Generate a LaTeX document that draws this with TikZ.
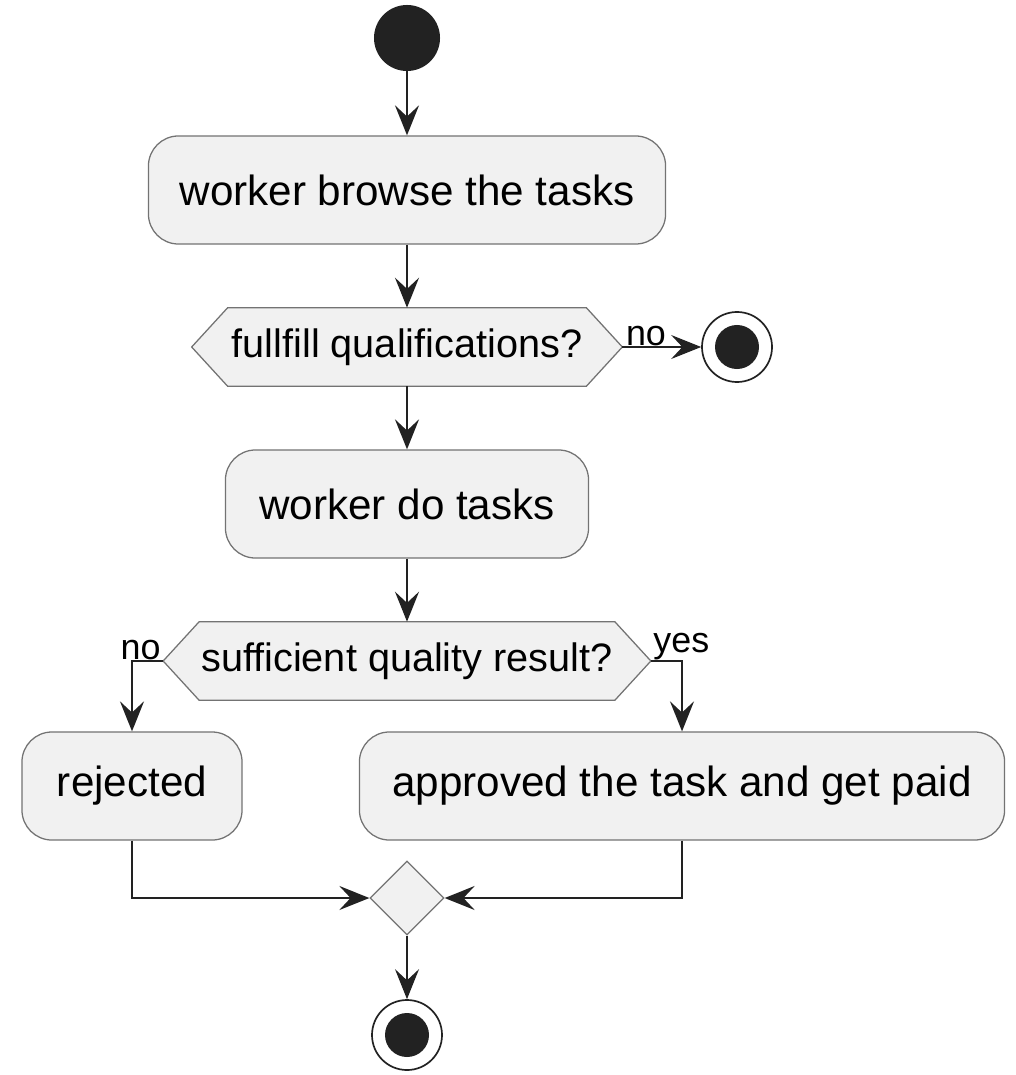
\documentclass[tikz,border=0pt]{standalone}
\usepackage{fontspec}
\setmainfont{Liberation Sans}
\usepackage{tikz}
\usetikzlibrary{arrows.meta, shapes.geometric}
\definecolor{boxfill}{HTML}{F1F1F1}
\definecolor{ink}{HTML}{222222}
\newcommand{\hexframe}[1]{%
  \draw[draw=black!55, line width=0.9pt, fill=boxfill] (#1.west) -- ([xshift=0.9cm]#1.north west)
    -- ([xshift=-0.9cm]#1.north east) -- (#1.east) -- ([xshift=-0.9cm]#1.south east)
    -- ([xshift=0.9cm]#1.south west) -- cycle;
  \node[font=\fontsize{28.2}{34}\selectfont] at (#1) {\csname hextext#1\endcsname};}

\begin{document}
\begin{tikzpicture}[x=0.025cm, y=-0.025cm,
  act/.style={draw=black!55, line width=0.9pt, fill=boxfill, rounded corners=0.75cm,
    minimum height=2.7cm, font=\fontsize{30}{36}\selectfont},
  cond/.style={rectangle, minimum height=1.95cm, inner sep=0pt},
  stopnode/.style={circle, draw=ink, line width=1.2pt, fill=white, minimum size=1.75cm,
    path picture={\fill[ink] (path picture bounding box.center) circle (0.55cm);}},
  flow/.style={draw=ink, line width=1.6pt, -{Stealth[length=0.75cm, width=0.6cm, inset=0.28cm]}},
  lbl/.style={font=\fontsize{25.5}{30}\selectfont, inner sep=1pt}]
  \useasboundingbox (0,0) rectangle (1015,1075);
  \node[circle, fill=ink, minimum size=1.65cm] (start) at (407,38) {};
  \node[act, minimum width=12.925cm] (browse) at (407,190) {worker browse the tasks};
  \node[cond, minimum width=10.75cm] (qual) at (407,347) {};
  \def\hextextqual{fullfill qualifications?}
  \hexframe{qual}
  \node[stopnode] (stopa) at (737,347) {};
  \node[act, minimum width=9.075cm] (dotask) at (407,504) {worker do tasks};
  \node[cond, minimum width=12.175cm] (quality) at (407,661) {};
  \def\hextextquality{sufficient quality result?}
  \hexframe{quality}
  \node[act, minimum width=5.5cm] (rejected) at (132,786) {rejected};
  \node[act, minimum width=16.125cm] (approved) at (682,786) {approved the task and get paid};
  \node[diamond, draw=black!55, line width=0.9pt, fill=boxfill, minimum size=1.85cm, inner sep=0pt] (merge) at (407,898) {};
  \node[stopnode] (stopb) at (407,1035) {};

  \draw[flow] (start) -- (browse);
  \draw[flow] (browse) -- (qual);
  \draw[flow] (qual) -- node[lbl, above, pos=0.3, yshift=-1pt] {no} (stopa);
  \draw[flow] (qual) -- (dotask);
  \draw[flow] (dotask) -- (quality);
  \draw[flow] (quality.west) node[lbl, anchor=south east, yshift=-1pt] {no} -| (rejected.north);
  \draw[flow] (quality.east) node[lbl, anchor=south west, yshift=-1pt] {yes} -| (approved.north);
  \draw[flow] (rejected.south) |- (merge.west);
  \draw[flow] (approved.south) |- (merge.east);
  \draw[flow] (merge) -- (stopb);
\end{tikzpicture}
\end{document}
